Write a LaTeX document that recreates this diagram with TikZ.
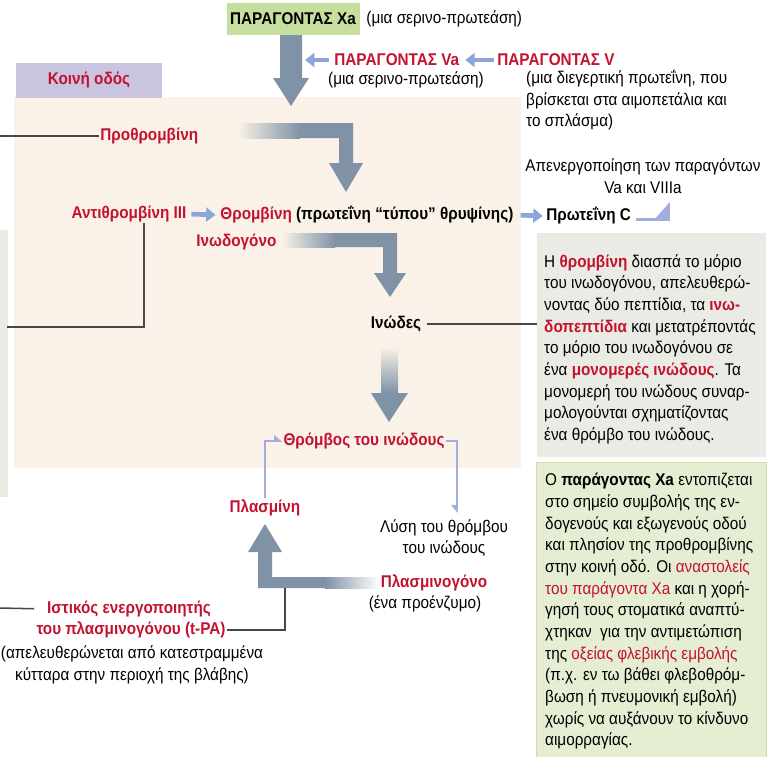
\documentclass[tikz,border=0pt]{standalone}
\usepackage{fontspec}
\setmainfont{Liberation Sans}[FakeStretch=0.9]
\usetikzlibrary{arrows.meta,positioning,calc}
\definecolor{myred}{HTML}{C3122F}
\definecolor{beige}{HTML}{FAF2E8}
\definecolor{graybg}{HTML}{EBEBE5}
\definecolor{greenbg}{HTML}{E5EDD3}
\definecolor{greenline}{HTML}{CFDCB2}
\definecolor{xagreen}{HTML}{C6DF9F}
\definecolor{lavender}{HTML}{C9C5E1}
\definecolor{arrowgray}{HTML}{7F92A6}
\definecolor{arrowblue}{HTML}{8DA6D9}
\definecolor{hookblue}{HTML}{A3ACDB}
\definecolor{linegray}{HTML}{474747}
\newcommand{\redw}[1]{\textcolor{myred}{#1}}
\newcommand{\redb}[1]{\textcolor{myred}{\bfseries #1}}

\begin{document}
\begin{tikzpicture}[
  x=0.03cm, y=-0.03cm,
  every node/.style={font=\fontsize{14.5}{18.5}\selectfont, inner sep=1pt},
  lbl/.style={font=\fontsize{14.5}{18.5}\selectfont\bfseries, text=myred},
  txt/.style={align=center},
  panel/.style={anchor=north west, inner sep=0},
  fat/.style={fill=arrowgray},
  thin/.style={draw=linegray, line width=1.3pt},
  smallarr/.style={draw=arrowblue, line width=4pt, -{Triangle[length=8pt,width=12pt]}},
  hook/.style={draw=hookblue, line width=2.5pt},
  >=Stealth
]
\useasboundingbox (0,0) rectangle (768,756);

% backgrounds
\fill[beige] (14,97) rectangle (521,468);
\fill[graybg] (0,230) rectangle (8,497);
\node[panel, fill=graybg, minimum width=6.87cm, minimum height=6.72cm] (graybox) at (537,233) {};
\node[panel, fill=greenbg, draw=greenline, minimum width=6.9cm, minimum height=8.85cm] (greenbox) at (536,462) {};

% top
\node[fill=xagreen, font=\fontsize{14.5}{18.5}\selectfont\bfseries, minimum width=3.99cm, minimum height=0.96cm] (xa) at (293,19) {ΠΑΡΑΓΟΝΤΑΣ Xa};
\node[anchor=west] (xadesc) at (365,19) {(μια σερινο-πρωτεάση)};
\node[lbl, anchor=west] (va) at (333,60) {ΠΑΡΑΓΟΝΤΑΣ Va};
\node (vadesc) at (406,80) {(μια σερινο-πρωτεάση)};
\node[lbl, anchor=west] (v) at (496,60) {ΠΑΡΑΓΟΝΤΑΣ V};
\node[anchor=north west, align=left, inner sep=0] (vdesc) at (526,70) {(μια διεγερτική πρωτεΐνη, που\\βρίσκεται στα αιμοπετάλια και\\το σπλάσμα)};
\node[fill=lavender, lbl, minimum width=4.35cm, minimum height=1.05cm] (koini) at (89,80) {Κοινή οδός};
\coordinate (vaend) at (305,60);
\draw[smallarr, shorten <=3pt] (va.west) -- (vaend);
\draw[smallarr, shorten <=2pt, shorten >=4pt] (v.west) -- (va.east);

% cascade
\node[lbl, anchor=west] (prothr) at (99,136) {Προθρομβίνη};
\node[lbl] (antithr) at (129,214) {Αντιθρομβίνη III};
\node[lbl, anchor=west] (thromb) at (219,215) {Θρομβίνη \textcolor{black}{(πρωτεΐνη “τύπου” θρυψίνης)}};
\node[lbl, text=black, anchor=west] (protc) at (545,216) {Πρωτεΐνη C};
\node[txt] (apen) at (643,176) {Απενεργοποίηση των παραγόντων\\Va και VIIIa};
\node[lbl, anchor=west] (inodog) at (195,242) {Ινωδογόνο};
\node[lbl, text=black] (inodes) at (396,324) {Ινώδες};
\node[lbl] (thrombos) at (364,441) {Θρόμβος του ινώδους};
\node[lbl] (plasm) at (265,508) {Πλασμίνη};
\node[txt] (lysi) at (444,538) {Λύση του θρόμβου\\του ινώδους};
\node[lbl] (plasmgen) at (434,583) {Πλασμινογόνο};
\node (proenz) at (425,604) {(ένα προένζυμο)};
\node[lbl] (tpa1) at (129,609) {Ιστικός ενεργοποιητής};
\node[lbl] (tpa2) at (131,630) {του πλασμινογόνου (t-PA)};
\node[txt] (tpadesc) at (132,665) {(απελευθερώνεται από κατεστραμμένα\\κύτταρα στην περιοχή της βλάβης)};

\draw[smallarr, shorten <=3pt, shorten >=3pt] (antithr.east) -- (thromb.west);
\draw[smallarr, shorten <=5pt, shorten >=2pt] (thromb.east) -- (protc.west);

% fat arrows
\fill[fat] (280,35) -- (302,35) -- (302,78) -- (309,78) -- (291,106) -- (273,78) -- (280,78) -- cycle;
\shade[left color=beige, right color=arrowgray] (238,123) rectangle (300,138);
\fill[fat] (300,123) -- (353,123) -- (353,163) -- (363,163) -- (346,192) -- (329,163) -- (339,163) -- (339,138) -- (300,138) -- cycle;
\shade[left color=beige, right color=arrowgray] (282,233) rectangle (335,247);
\fill[fat] (335,233) -- (397,233) -- (397,273) -- (406,273) -- (390,297) -- (374,273) -- (383,273) -- (383,247) -- (335,247) -- cycle;
\shade[top color=beige, bottom color=arrowgray] (381,347) rectangle (398,393);
\fill[fat] (371,393) -- (408,393) -- (389,422) -- cycle;
\shade[left color=arrowgray, right color=white] (325,577) rectangle (379,588);
\fill[fat] (325,577) -- (272,577) -- (272,552) -- (282,552) -- (265,524) -- (248,552) -- (258,552) -- (258,588) -- (325,588) -- cycle;

% hooks
\coordinate (apenin) at (669,203);
\draw[hook] ([xshift=3pt, yshift=-3pt]protc.east) -| (apenin);
\fill[hookblue] (apenin) -- ++(0,17) -- ++(-15,0) -- cycle;
\draw[hook, -{Triangle[left, length=6pt, width=10pt]}] (plasm.north) |- (thrombos.west);
\coordinate (lysitop) at (457,513);
\draw[hook, -{Triangle[right, length=6pt, width=10pt]}] (thrombos.east) -| (lysitop);

% thin lines
\coordinate (lefta) at (0,136);
\draw[thin] (lefta) -- (prothr.west);
\coordinate (leftb) at (7,327);
\draw[thin] ([xshift=13pt]antithr.south) |- (leftb);
\draw[thin, shorten <=4pt] (inodes.east) -- (inodes.east -| graybox.west);
\coordinate (leftc) at (0,608);
\draw[thin, shorten >=10pt] (leftc) -- (tpa1.west);
\coordinate (tpaend) at (285,588);
\draw[thin] (tpa2.east) -| (tpaend);

% text panels
\node[anchor=north west, align=left, inner sep=0] (graytxt) at (544,254) {Η \redb{θρομβίνη} διασπά το μόριο\\
του ινωδογόνου, απελευθερώ-\\
νοντας δύο πεπτίδια, τα \redb{ινω-}\\
\redb{δοπεπτίδια} και μετατρέποντάς\\
το μόριο του ινωδογόνου σε\\
ένα \redb{μονομερές ινώδους}. Τα\\
μονομερή του ινώδους συναρ-\\
μολογούνται σχηματίζοντας\\
ένα θρόμβο του ινώδους.};
\node[anchor=north west, align=left, inner sep=0] (greentxt) at (545,473) {Ο \textbf{παράγοντας Xa} εντοπιζεται\\
στο σημείο συμβολής της εν-\\
δογενούς και εξωγενούς οδού\\
και πλησίον της προθρομβίνης\\
στην κοινή οδό. Οι \redw{αναστολείς}\\
\redw{του παράγοντα Xa} και η χορή-\\
γησή τους στοματικά αναπτύ-\\
χτηκαν\ \ για την αντιμετώπιση\\
της \redw{οξείας φλεβικής εμβολής}\\
(π.χ. εν τω βάθει φλεβοθρόμ-\\
βωση ή πνευμονική εμβολή)\\
χωρίς να αυξάνουν το κίνδυνο\\
αιμορραγίας.};
\end{tikzpicture}
\end{document}
